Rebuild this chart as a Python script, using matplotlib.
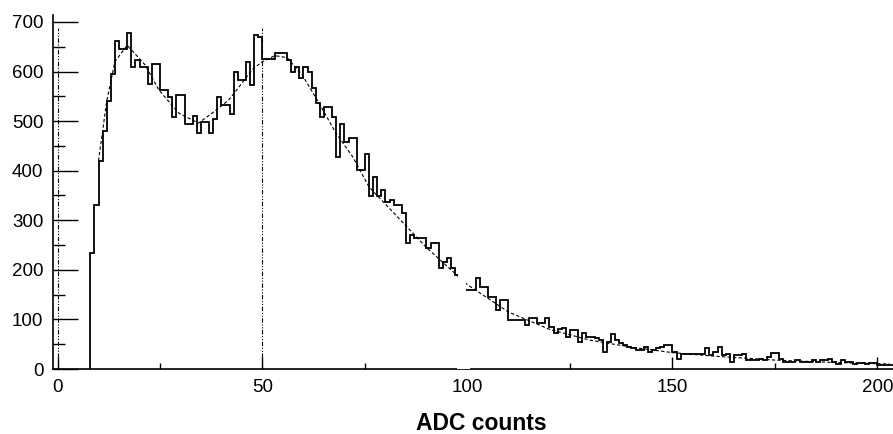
import numpy as np
import matplotlib
matplotlib.use("Agg")
import matplotlib.pyplot as plt

plt.rcParams['font.family'] = ['Liberation Sans', 'DejaVu Sans']

# histogram: first bin edge and counts per 1-ADC bin
first_bin = 8
counts = [
    234, 330, 420, 480, 540, 595, 662, 645, 645, 677,   # 8-17
    609, 624, 609, 609, 575, 615, 615, 562, 562, 548,   # 18-27
    508, 552, 552, 495, 495, 510, 475, 498, 498, 475,   # 28-37
    505, 548, 532, 532, 515, 599, 582, 582, 619, 572,   # 38-47
    673, 670, 626, 626, 626, 638, 638, 638, 623, 599,   # 48-57
    609, 586, 610, 599, 566, 536, 508, 529, 529, 508,   # 58-67
    428, 495, 458, 465, 465, 401, 401, 434, 348, 388,   # 68-77
    348, 361, 337, 341, 331, 331, 314, 254, 270, 264,   # 78-87
    264, 264, 244, 254, 254, 203, 216, 224, 203, 189,   # 88-97
    175, 159, 159, 159, 183, 165, 165, 145, 145, 119,   # 98-107
    139, 139, 99, 99, 99, 99, 89, 103, 103, 93,         # 108-117
    93, 103, 85, 72, 80, 82, 65, 78, 78, 55,            # 118-127
    72, 65, 65, 62, 58, 35, 55, 70, 58, 52,             # 128-137
    48, 45, 42, 38, 38, 45, 35, 38, 42, 45,             # 138-147
    48, 48, 35, 21, 31, 31, 31, 31, 31, 31,             # 148-157
    42, 28, 35, 45, 28, 31, 15, 28, 28, 31,             # 158-167
    18, 18, 18, 21, 18, 25, 32, 32, 21, 15,             # 168-177
    15, 15, 19, 15, 15, 15, 18, 15, 19, 19,             # 178-187
    21, 15, 11, 18, 15, 15, 11, 13, 13, 10,             # 188-197
    13, 13, 8, 8, 9, 9,                                 # 198-203
]

# fitted curve, points
fit_x = [10, 12, 14, 17, 21.4, 24.7, 29.6, 34.4, 37.7, 41.7, 44.2, 47.4, 49.8,
         53, 56, 59.7, 63.8, 67.9, 72, 76, 82, 90, 100, 110, 120, 130, 140,
         150, 160, 175, 190, 203]
fit_y = [420, 540, 620, 653, 613, 563, 516, 496, 516, 542, 568, 603, 619,
         632, 628, 593, 536, 476, 428, 367, 315, 245, 170, 115, 80, 58, 44,
         33, 26, 18, 13, 10]

xticks = [0, 50, 100, 150, 200]
yticks = [0, 100, 200, 300, 400, 500, 600, 700]
ref_lines = [0, 50]

fig = plt.figure(figsize=(8.93, 4.34), dpi=100)
ax = fig.add_axes([53 / 893, 65 / 434, 840 / 893, 354 / 434])

edges = np.arange(first_bin, first_bin + len(counts) + 1)
ax.stairs(counts, edges, baseline=0, color='black', lw=1.3, zorder=2)
ax.plot(fit_x, fit_y, color='black', lw=0.8, dashes=(3, 2), zorder=2)

for xv in ref_lines:
    ax.axvline(xv, ymax=0.962, color='black', lw=0.8,
               dashes=(4, 1.5, 1, 1.5, 1, 1.5), zorder=1)

# scan gap around 98: blank strip in the histogram and a break in the axis
ax.axvspan(97.6, 99.6, color='white', lw=0, zorder=3)
ax.axvspan(97.4, 100.6, ymax=0.045, color='white', lw=0, zorder=3)

ax.set_xlim(-1.1, 203.8)
ax.set_ylim(0, 714)

ax.spines['top'].set_visible(False)
ax.spines['right'].set_visible(False)
ax.spines['left'].set_linewidth(1.2)
ax.spines['bottom'].set_linewidth(1.2)

ax.set_xticks(xticks)
ax.set_xticks([25, 75, 125, 175], minor=True)
ax.set_yticks(yticks)
ax.set_yticks(np.arange(50, 700, 100), minor=True)

ax.tick_params(axis='y', which='major', direction='in', length=18, width=1.0,
               pad=7, labelsize=13.5)
ax.tick_params(axis='y', which='minor', direction='in', length=8.5, width=1.0)
ax.tick_params(axis='x', which='major', direction='in', length=8.5, width=1.0,
               pad=7, labelsize=13.5)
ax.tick_params(axis='x', which='minor', direction='in', length=4, width=1.0)

fig.text(481.5 / 893, 1 - 424 / 434, 'ADC counts', ha='center', va='center',
         fontsize=16.5, fontweight='bold')

fig.savefig('out.png', dpi=100)
